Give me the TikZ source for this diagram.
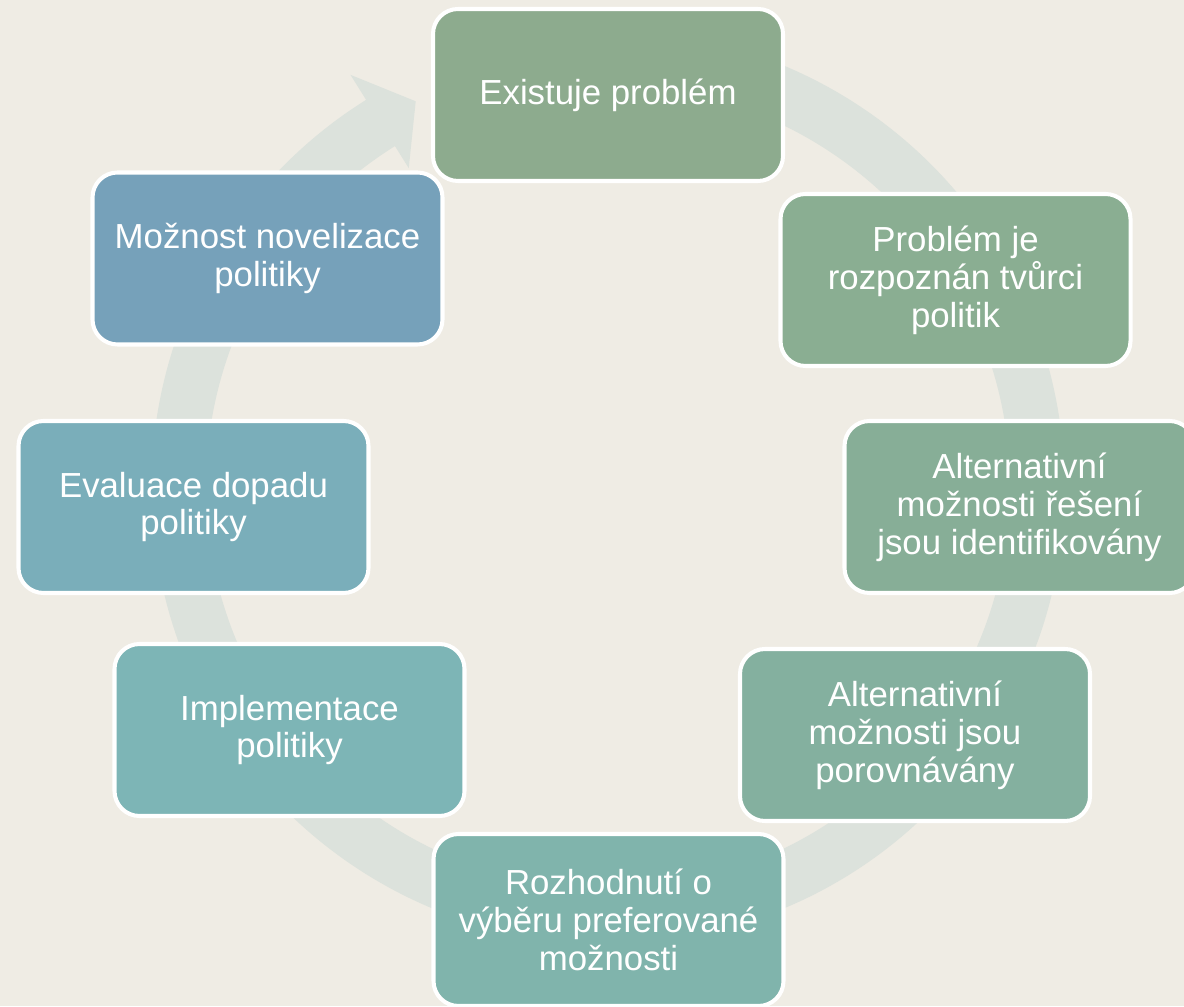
\documentclass[tikz,border=0pt]{standalone}
\usepackage{fontspec}
\setmainfont{Liberation Sans}
\usepackage{xcolor}
\usepackage{tikz}
\usetikzlibrary{positioning, calc}

\definecolor{paper}{HTML}{EFECE4}
\definecolor{ringgray}{HTML}{DCE2DC}
\definecolor{stA}{HTML}{8DAB8E}
\definecolor{stB}{HTML}{8AAE92}
\definecolor{stC}{HTML}{87AE97}
\definecolor{stD}{HTML}{84B09F}
\definecolor{stE}{HTML}{80B4AC}
\definecolor{stF}{HTML}{7DB5B6}
\definecolor{stG}{HTML}{7AAEBA}
\definecolor{stH}{HTML}{76A1BA}

\tikzset{
  stage/.style={rectangle, rounded corners=0.5cm, draw=white, line width=2.3pt,
    minimum width=7.0cm, minimum height=3.44cm, text=white, align=center,
    font=\fontsize{19.8}{21.6}\selectfont}
}

\begin{document}
\begin{tikzpicture}
  \fill[paper] (0,0) rectangle (23.68,20.12);
  \useasboundingbox (0,0) rectangle (23.68,20.12);

  % cycle arrow behind the boxes
  \coordinate (c) at (12.16,10.38);
  \fill[ringgray] ($(c)+(100:9.13)$) arc[start angle=100, end angle=-238, radius=9.13]
    -- ($(c)+(-238:9.72)$) -- ($(c)+(-243.5:8.62)$) -- ($(c)+(-238:7.52)$)
    -- ($(c)+(-238:8.04)$) arc[start angle=-238, end angle=100, radius=8.04] -- cycle;

  \node[stage, fill=stA] (exist) at (12.16,18.22) {Existuje problém};
  \node[stage, fill=stB] (recog) at (19.11,14.52) {Problém je\\rozpoznán tvůrci\\politik};
  \node[stage, fill=stC] (altid) at (20.39,9.98) {Alternativní\\možnosti řešení\\jsou identifikovány};
  \node[stage, fill=stD] (altcmp) at (18.30,5.42) {Alternativní\\možnosti jsou\\porovnávány};
  \node[stage, fill=stE] (decide) at (12.17,1.72) {Rozhodnutí o\\výběru preferované\\možnosti};
  \node[stage, fill=stF] (impl) at (5.79,5.52) {Implementace\\politiky};
  \node[stage, fill=stG] (eval) at (3.87,9.98) {Evaluace dopadu\\politiky};
  \node[stage, fill=stH] (revise) at (5.35,14.95) {Možnost novelizace\\politiky};
\end{tikzpicture}
\end{document}
